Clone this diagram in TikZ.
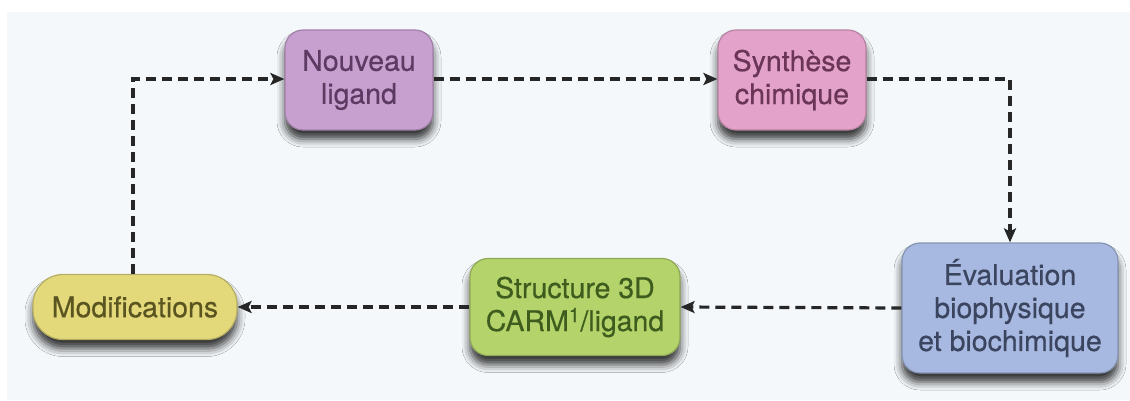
\documentclass[tikz,border=0pt]{standalone}
\usepackage{fontspec}
\setmainfont{TeX Gyre Heros}[FakeBold=0.5]
\usetikzlibrary{arrows.meta,shadows.blur}
\definecolor{bgc}{HTML}{F4F8FB}
\definecolor{purfill}{HTML}{C8A0CF}
\definecolor{purtxt}{HTML}{5C3A62}
\definecolor{pinkfill}{HTML}{E3A2C9}
\definecolor{pinktxt}{HTML}{6A3557}
\definecolor{yelfill}{HTML}{E4D97A}
\definecolor{yeltxt}{HTML}{5A5520}
\definecolor{grnfill}{HTML}{B4D36B}
\definecolor{grntxt}{HTML}{3E5C1E}
\definecolor{blufill}{HTML}{A7B9E0}
\definecolor{blutxt}{HTML}{3C4560}
\tikzset{
  box/.style={rounded corners=18pt, inner sep=0pt, align=center,
    font=\fontsize{28.5}{33}\selectfont, line width=1.2pt,
    blur shadow={shadow xshift=0pt, shadow yshift=-9pt, shadow blur radius=8pt, shadow opacity=80}},
  conn/.style={line width=3.2pt, dash pattern=on 10pt off 6pt, black!85,
    -{Stealth[length=14pt,width=12pt,inset=3pt]}}
}
\begin{document}
\begin{tikzpicture}[x=1pt,y=-1pt]
\useasboundingbox (0,0) rectangle (1130,400);
\fill[white] (0,0) rectangle (1130,400);
\fill[bgc] (7,12) rectangle (1130,400);
\node[box, fill=purfill, draw=purfill!80!black, text=purtxt, minimum width=148pt, minimum height=100pt] (nouv) at (359,80) {Nouveau\\ligand};
\node[box, fill=pinkfill, draw=pinkfill!80!black, text=pinktxt, minimum width=148pt, minimum height=100pt] (synth) at (792,80) {Synthèse\\chimique};
\node[box, fill=blufill, draw=blufill!80!black, text=blutxt, minimum width=216pt, minimum height=130pt] (eval) at (1010,308) {Évaluation\\biophysique\\et biochimique};
\node[box, fill=grnfill, draw=grnfill!80!black, text=grntxt, minimum width=210pt, minimum height=97pt] (struct) at (575,307) {Structure 3D\\CARM\textsuperscript{1}/ligand};
\node[box, rounded corners=30pt, fill=yelfill, draw=yelfill!80!black, text=yeltxt, minimum width=204pt, minimum height=65pt] (modif) at (135,307) {Modifications};
\coordinate (c1) at (133,79);
\coordinate (c2) at (1010,79);
\draw[conn] (modif.north -| c1) -- (c1) -- (nouv.west |- c1);
\draw[conn] (nouv.east |- c1) -- (synth.west |- c1);
\draw[conn] (synth.east |- c2) -- (c2) -- (eval.north);
\draw[conn] (eval.west) -- (struct.east);
\draw[conn] (struct.west) -- (modif.east);
\end{tikzpicture}
\end{document}
